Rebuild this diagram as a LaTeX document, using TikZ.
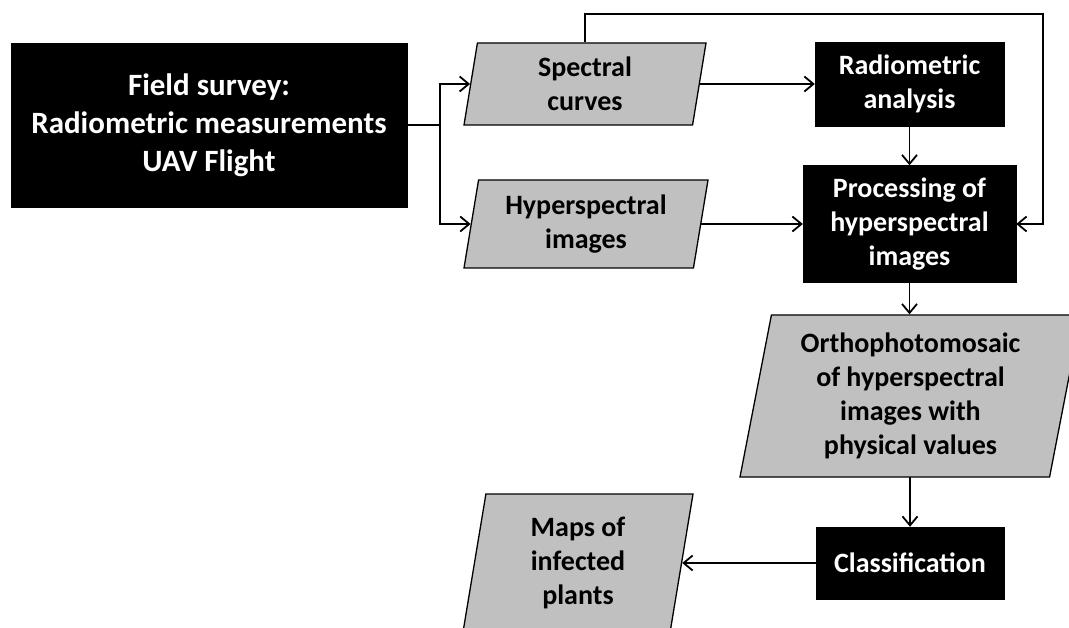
\documentclass[tikz,border=0pt]{standalone}
\usepackage{fontspec}
\setmainfont{Carlito}
\usepackage{tikz}
\usetikzlibrary{positioning,shapes.geometric,arrows.meta}
\definecolor{databg}{RGB}{192,192,192}

\begin{document}
\begin{tikzpicture}[x=1pt, y=-1pt,
    procbox/.style={draw=black, fill=black, text=white, inner sep=0pt, align=center, font=\bfseries\fontsize{28}{34}\selectfont},
    databox/.style={trapezium, trapezium left angle=76, trapezium right angle=104, trapezium stretches body, draw=black, line width=1.3pt, fill=databg, inner sep=0pt, align=center, font=\bfseries\fontsize{28}{34}\selectfont},
    wire/.style={line width=1.8pt},
    flow/.style={wire, -{Straight Barb[length=9pt, width=15pt]}}]
    \clip (0,0) rectangle (1069,628);

    % Field survey and its outputs (Left)
    \node[procbox, minimum width=396pt, minimum height=164pt, font=\bfseries\fontsize{31}{38}\selectfont] (field) at (209,125) {Field survey:\\Radiometric measurements\\UAV Flight};
    \coordinate[right=33pt of field.east] (split);
    \node[databox, minimum width=242pt, minimum height=82pt] (spec) at (585,84) {Spectral\\curves};
    \node[databox, minimum width=244pt, minimum height=88pt] (hyp) at (586,224) {Hyperspectral\\images};

    % Processing chain (Right)
    \node[procbox, minimum width=189pt, minimum height=84pt] (radio) at (909.5,84) {Radiometric\\analysis};
    \node[procbox, minimum width=213pt, minimum height=117pt] (proc) at (909.5,224) {Processing of\\hyperspectral\\images};
    \node[databox, minimum width=341pt, minimum height=162pt] (ortho) at (910.5,396) {Orthophotomosaic\\of hyperspectral\\images with\\physical values};
    \node[procbox, minimum width=188pt, minimum height=72pt] (classif) at (910,563) {Classification};
    \node[databox, minimum width=230pt, minimum height=138pt] (maps) at (578,563) {Maps of\\infected\\plants};
    \coordinate (loop) at (1043,14);

    % Connectors
    \draw[wire] (field.east) -- (split);
    \draw[flow] (split) |- (spec.west);
    \draw[flow] (split) |- (hyp.west);
    \draw[flow] (spec.east) -- (spec.east -| radio.west);
    \draw[flow] (hyp.east) -- (hyp.east -| proc.west);
    \draw[flow] (spec.north) |- (loop) |- (proc.east);
    \draw[flow] (radio.south) -- (proc.north);
    \draw[flow] (proc.south) -- (proc.south |- ortho.north);
    \draw[flow] (ortho.south) -- (ortho.south -| classif.north) -- (classif.north);
    \draw[flow] (classif.west) -- (maps.east);
\end{tikzpicture}
\end{document}
